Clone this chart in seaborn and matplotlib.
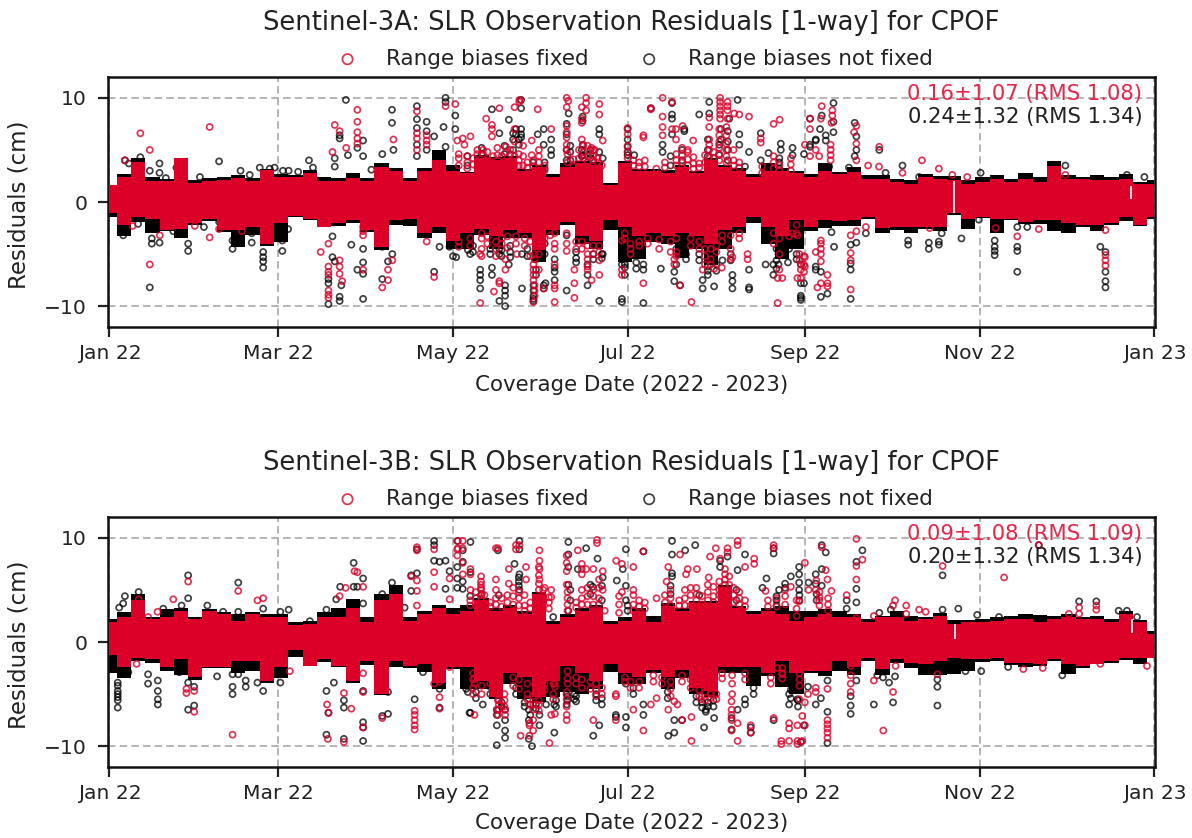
import matplotlib
matplotlib.use("Agg")
import matplotlib.pyplot as plt
import pandas as pd
import seaborn as sns

tick_days = [0, 59, 120, 181, 243, 304, 365]
tick_labels = ["Jan 22", "Mar 22", "May 22", "Jul 22", "Sep 22", "Nov 22", "Jan 23"]

# dense core of the residuals, read every 5 days
core_days = [0, 5, 10, 15, 20, 25, 30, 35, 40, 45, 50, 55, 60, 65, 70, 75, 80, 85, 90, 95,
             100, 105, 110, 115, 120, 125, 130, 135, 140, 145, 150, 155, 160, 165, 170, 175, 180, 185, 190, 195,
             200, 205, 210, 215, 220, 225, 230, 235, 240, 245, 250, 255, 260, 265, 270, 275, 280, 285, 290, 295,
             300, 305, 310, 315, 320, 325, 330, 335, 340, 345, 350, 355, 360, 365]

a_fixed_hi = [1.6, 2.4, 3.8, 2.0, 2.0, 4.2, 1.8, 2.0, 2.1, 2.3, 2.0, 3.1, 2.4, 2.4, 2.8, 2.0, 2.0, 2.3, 2.0, 3.4,
              3.0, 2.0, 3.0, 4.0, 3.0, 2.8, 4.2, 4.0, 4.2, 3.0, 3.4, 2.4, 3.4, 3.7, 3.6, 1.6, 3.7, 3.0, 3.0, 2.8,
              3.4, 2.8, 4.0, 3.4, 3.0, 2.4, 3.0, 3.0, 2.8, 2.4, 3.0, 2.7, 2.9, 2.2, 2.2, 1.9, 1.7, 2.4, 2.2, 2.1,
              1.7, 1.9, 2.2, 1.9, 2.2, 1.9, 3.5, 2.2, 2.2, 2.1, 2.1, 2.2, 1.7, 1.7]
a_fixed_lo = [-1.1, -2.2, -1.4, -1.6, -2.7, -2.6, -2.0, -1.6, -2.7, -2.7, -2.4, -4.0, -2.0, -1.3, -1.6, -2.4, -2.0, -1.7, -2.7, -4.3,
              -1.7, -1.6, -3.0, -2.4, -3.7, -3.0, -2.6, -3.3, -2.7, -3.0, -4.6, -2.7, -1.9, -3.3, -3.7, -1.7, -2.4, -3.3, -3.0, -3.3,
              -3.0, -3.3, -4.0, -2.7, -2.4, -1.4, -2.4, -3.3, -1.7, -2.4, -1.7, -1.8, -1.7, -1.4, -2.5, -2.4, -2.4, -2.4, -2.4, -1.1,
              -1.6, -1.4, -1.6, -1.6, -1.9, -1.7, -1.7, -2.0, -2.2, -2.2, -2.0, -1.4, -2.2, -1.4]
a_free_hi = [1.6, 2.7, 4.2, 2.4, 2.2, 4.2, 2.1, 2.3, 2.4, 2.6, 2.3, 3.2, 2.7, 2.6, 3.1, 2.4, 2.3, 2.8, 2.3, 3.7,
             3.3, 2.3, 3.3, 5.0, 3.6, 2.9, 4.5, 4.3, 4.4, 3.2, 3.6, 2.7, 3.7, 3.9, 3.8, 1.8, 3.9, 3.2, 3.2, 3.1,
             3.6, 3.0, 4.2, 3.6, 3.3, 2.7, 3.7, 3.3, 3.0, 2.7, 3.7, 2.9, 3.4, 2.6, 2.6, 2.2, 2.1, 2.7, 2.5, 2.5,
             2.1, 2.4, 2.6, 2.2, 2.8, 2.4, 3.9, 2.6, 2.4, 2.6, 2.4, 2.7, 1.9, 2.1]
a_free_lo = [-1.4, -3.3, -1.9, -3.0, -2.8, -3.5, -2.2, -1.8, -2.9, -4.3, -3.2, -4.2, -3.8, -1.4, -1.7, -2.4, -2.3, -2.0, -2.9, -4.6,
             -2.2, -2.3, -3.5, -3.0, -4.5, -4.5, -3.2, -4.5, -3.5, -3.5, -5.8, -3.2, -2.2, -4.0, -4.5, -2.7, -5.8, -5.5, -3.8, -4.0,
             -5.4, -4.5, -6.0, -4.5, -3.0, -2.0, -4.0, -5.5, -4.5, -2.8, -2.5, -2.3, -2.3, -1.6, -3.0, -2.7, -3.0, -2.6, -2.8, -1.2,
             -2.6, -1.5, -3.0, -1.7, -2.1, -2.1, -2.8, -3.0, -2.4, -2.8, -2.2, -1.8, -2.3, -1.6]

b_fixed_hi = [1.9, 2.4, 4.0, 2.2, 2.4, 3.0, 2.2, 3.0, 2.7, 2.0, 2.7, 2.4, 2.4, 1.6, 1.7, 2.4, 2.4, 3.3, 1.9, 4.0,
              4.6, 2.0, 2.7, 3.3, 2.7, 3.0, 4.0, 3.0, 3.3, 2.7, 4.6, 1.7, 2.4, 3.0, 3.3, 1.7, 2.0, 3.0, 1.9, 3.5,
              3.0, 3.7, 3.7, 5.3, 3.3, 2.7, 3.0, 2.7, 2.0, 2.4, 2.7, 2.4, 2.4, 1.9, 2.4, 2.4, 2.0, 2.2, 2.5, 1.7,
              1.9, 1.9, 2.0, 2.2, 2.2, 1.9, 2.2, 2.4, 2.2, 2.2, 1.9, 2.7, 1.9, 0.8]
b_fixed_lo = [-1.2, -2.4, -1.5, -1.6, -2.4, -1.6, -3.4, -2.4, -2.4, -1.8, -1.8, -3.7, -2.4, -0.8, -2.3, -1.6, -2.3, -3.7, -1.8, -5.0,
              -1.8, -2.3, -2.1, -3.9, -2.4, -2.4, -3.7, -5.3, -3.0, -3.4, -5.3, -3.7, -2.3, -3.0, -3.7, -2.1, -3.0, -3.4, -2.7, -3.4,
              -2.7, -4.4, -4.7, -2.4, -2.4, -2.4, -3.0, -1.8, -3.0, -2.8, -2.8, -1.8, -2.4, -1.5, -2.6, -1.6, -2.0, -2.1, -1.8, -1.5,
              -1.6, -1.6, -1.5, -2.0, -2.0, -2.1, -1.6, -2.1, -2.3, -2.1, -1.8, -1.5, -1.5, -1.5]
b_free_hi = [2.2, 2.9, 4.6, 2.4, 3.2, 3.3, 2.4, 3.2, 2.9, 2.7, 2.9, 2.7, 2.7, 1.9, 2.0, 2.9, 3.3, 4.1, 2.4, 4.6,
             5.5, 2.4, 3.0, 3.6, 3.3, 3.6, 4.2, 3.3, 3.6, 3.0, 4.8, 2.0, 2.7, 3.3, 3.6, 2.0, 2.4, 3.3, 2.5, 3.7,
             3.3, 3.9, 3.9, 5.5, 3.5, 3.0, 3.3, 3.5, 3.0, 3.0, 3.2, 3.0, 2.7, 2.2, 2.5, 3.0, 2.5, 2.4, 2.8, 2.1,
             2.1, 2.2, 2.4, 2.5, 2.7, 2.6, 2.5, 2.7, 2.4, 2.5, 2.2, 3.0, 2.1, 1.1]
b_free_lo = [-3.0, -3.5, -1.8, -2.0, -2.8, -3.2, -3.6, -2.5, -2.5, -3.0, -2.8, -3.9, -3.5, -1.4, -2.3, -1.9, -2.4, -3.9, -2.2, -5.1,
             -2.4, -2.5, -2.9, -4.5, -2.6, -4.5, -4.5, -5.5, -4.0, -5.5, -5.8, -5.3, -4.8, -5.0, -4.5, -2.9, -4.0, -4.0, -3.0, -4.5,
             -3.5, -5.0, -5.3, -3.0, -3.0, -4.2, -3.3, -4.3, -5.0, -3.0, -3.3, -2.8, -3.2, -1.8, -3.2, -2.0, -2.5, -3.2, -3.2, -3.1,
             -2.8, -1.9, -1.8, -2.2, -2.4, -2.3, -1.8, -3.1, -2.5, -2.1, -2.0, -1.7, -2.1, -1.5]

# short data gaps in the core: (day, low, high)
a_gaps = [(295, -1.1, 2.0), (356.8, 0.3, 1.5)]
b_gaps = [(295.2, 0.3, 1.7), (357.2, 0.9, 2.2)]

# passes standing out of the core: (day, residuals...)
a_free_out = [
    (4.8, -3.2), (5.4, 4.0), (6.8, 3.7), (10, -2.1), (10.8, 4.3), (14.1, 3.0, -8.2), (14.8, -3.5, -4.0), (17.5, 3.7, 2.8, -3.9),
    (19.7, 2.3), (22.3, -2.8), (23.4, 3.3), (27.5, -4.0, -4.7), (31.6, 2.4), (33, -2.4), (38.3, 3.9, -1.9), (43, -3.7, -4.5),
    (45.8, 3.0), (49, 2.6), (49.7, -3.0, -3.9), (52.5, 3.3), (53.7, -4.8, -5.3, -5.7, -6.3), (56, 3.2), (57.7, 3.3),
    (60.4, -3.7, -4.7), (60.6, 3.0), (62.4, -2.6), (62.6, 3.0), (65.9, 2.9), (69.7, 4.0), (71.1, 3.3),
    (76.5, -7.4, -7.8, -9.8), (77.9, -3.3, -5.3), (78.7, 4.2, 3.4, -5.7), (80.4, 6.4, 6.1, -9.1, -9.5), (81, -8.0),
    (82.6, 9.8), (83.3, 4.5), (84.5, -4.1), (86.6, 5.2, -6.5), (88.6, 5.9, 4.4, -4.5, -5.8, -6.9, -9.3), (91.5, 3.1),
    (95.3, 4.6, -3.0, -4.3, -7.4), (97.3, -5.7), (98.7, 8.85, 7.6), (98.8, -5.0), (99.2, 5.0),
    (107.4, 9.2, 7.95, 7.1, 5.5, 4.4), (110.8, 7.7, 6.8, 5.0, -3.0), (113.4, 6.3, -6.7), (115.3, 4.4, -4.3), (116.7, 7.2),
    (117.4, 10, 9.6, 5.3), (118.8, -4.3), (120, -5.2), (120.8, 8.3, 7.0), (121.1, -5.3), (123.4, -3.3), (125.2, -4.6),
    (126, -5.0), (129.5, -6.5, -7.0, -7.5, -8.3), (133.6, 8.9, -6.3, -7.0), (136.2, 6.6, -4.5, -5.0, -9.5),
    (138.2, -8.0, -8.5, -9.0, -10), (139.5, 7.9, -6.0), (142, 7.0, 6.5), (143.8, 9.8, 9.0, 7.0, 6.5, 6.2), (144.1, -5.0, -8.3),
    (148.1, -8.0, -8.5, -9.0, -9.3, -9.5), (149.6, 6.5), (151.7, 7.0, 5.5, -8.0, -8.3), (152.3, -7.8),
    (154.3, 6.0, 5.0, 4.5), (155.5, -5.5, -6.3, -6.7, -7.5), (159.7, 7.5, 6.5, 5.0, 4.0, -3.2, -8.5), (160.4, 8.5),
    (163, -5.8), (165.3, 8.2, 7.8, 5.5, 4.5), (167, -6.0, -7.0, -8.0), (171.1, 7.0, 6.5, 4.8, -9.5), (172.3, 4.2, -5.0),
    (179, -5.5, -6.0, -9.3, -9.6), (181, 7.0, 6.0, 4.8), (183.3, 4.5), (186.5, -6.0, -6.5, -9.7), (189.1, 9.0),
    (192.6, -6.4), (193.2, 5.5, 4.8), (196.5, 9.5, 8.4, 8.0, 6.5), (197.3, -6.7, -7.6), (199.3, -8.0), (200.8, 7.0, 6.8),
    (201.4, -5.0, -5.5), (206, 8.4), (207.2, -7.5, -8.3), (209.5, 9.6, 8.5), (211.2, -8.1), (213.6, 7.0, 6.0), (214.1, -5.6),
    (216.5, 8.0), (217.6, -7.0, -7.6, -8.3), (219.4, 9.8), (220, 6.5, 5.5), (223.4, 4.8, -6.5, -8.2, -8.4), (227.5, 6.6, 4.0),
    (229.2, -6.0), (230.2, 4.7), (231.9, -6.0, -7.0), (233.7, -5.0, -6.0), (234.5, 5.6, 5.0), (237.4, -3.5, -4.5),
    (238.6, 5.2, 4.5), (241.5, -6.0, -7.8, -9.0, -9.2, -9.4), (242.6, 4.6, -7.8), (244.7, 8.0, 5.5, 5.3), (246.7, 6.0, 5.9, -6.2, -6.5),
    (248.2, 7.0), (248.5, -6.7, -9.1), (248.8, 8.3), (250.2, 6.4, 5.9), (250.8, -8.8), (251.4, 3.4), (252.2, -2.9), (252.9, 9.5, 7.7, 6.7),
    (253.1, -4.3), (258.3, 3.3), (258.9, -4.1, -5.9, -6.5, -9.3), (260.3, 7.6, 4.4), (260.9, 6.3, 5.0, -3.9), (264.2, -3.0),
    (268.9, 5.0), (271.1, 2.8), (277, 3.5), (279, -3.7, -4.1), (282.8, 2.4), (286.2, -3.9, -4.5), (289.7, -3.8, -4.1), (290.7, -3.0),
    (297.6, -3.5), (303.7, -1.7), (304.3, 2.8), (309.2, -3.7, -4.3, -4.7, -5.1), (317.1, -2.4, -4.3, -4.7, -6.7), (320.6, -2.4),
    (333.9, 3.5), (346.1, -4.3), (347.9, -4.8, -6.7, -7.6, -8.2), (355.4, 2.6), (361.5, 2.4),
]
a_free_dense = [
    (125, 3.5, 4.4), (127, -4.2, -4.8), (130, 4.6, 5.2), (133, -4.5, -5.0), (137, -4.6, -5.2), (138, 4.6, 5.4), (140, -4.2, -4.8, -5.3),
    (141, 5.0, 6.0, 6.6), (143, 5.5, 6.0), (146, -4.5, -5.2), (148, 3.8), (149, -5.5, -6.5, -7.0), (152, 3.2, 3.8, -4.0, -5.0), (161, 4.0, 4.8, 5.4),
    (163, -4.8, -5.4), (165, 4.4, 5.0), (168, 4.2, 4.6, 5.0), (169, -5.0, -5.5), (172, -5.0, -5.4), (180, -6.0, -6.3, -7.0), (181, 4.5, 5.3),
    (184, -5.8, -6.4), (196, 3.5, 4.4), (198, -4.5, -6.0), (200, 4.0, 5.0), (206, -5.0, -5.6), (209, 4.4, 5.0, 6.0, -6.2, -6.6, -7.0),
    (212, -6.0, -6.6), (213, 4.5, 5.5), (216, 4.0, 5.0, 5.8, 6.8), (217, -5.0, -5.6), (222, 3.4), (233, -4.5, -5.6, -6.4), (234, 3.2, 3.8, 4.2),
    (237, -5.8), (240, -5.0, -5.5),
]
a_fixed_out = [
    (5.4, 4.0), (8.1, -2.3), (10.8, 6.6), (14.1, 5.0, -6.0), (17.6, -3.2), (29.8, -2.3), (35, 7.2, -3.4), (38.3, -2.6), (46.3, -2.8),
    (73.8, -4.8), (76.5, -4.0, -6.2, -6.7, -7.0, -8.5, -8.9, -9.2), (77.9, 4.8), (78.7, 7.4), (80.4, 6.8, -5.6, -6.2, -6.9),
    (81.3, -7.6), (82.7, 5.2), (86.6, 8.85, 7.7, 6.7, 6.1, 5.6), (88.6, -2.4, -2.8, -3.2, -6.5), (95.3, -8.2), (97.3, -6.5, -7.5),
    (98.8, -5.6), (99.2, 6.0), (107.4, 8.7, 6.6, 6.1, 5.0), (110.8, 6.4, 5.9, 5.5, -3.8), (113.4, -7.2), (117.4, 9.2),
    (120.8, 9.4), (121.5, 5.9), (123.4, 6.1), (124, 5.5), (126.1, 6.3), (129.5, -5.0, -9.7), (131.6, 8.0), (133.6, 7.4, 7.0, 6.3),
    (134.3, -8.6), (136.2, 9.0, -7.6, -7.8), (138.3, -5.5, -6.5), (141.5, 9.1, 7.0), (142.3, -5.0), (143.2, 9.8, 9.6), (147.5, 5.9, 4.5),
    (148.1, -6.0, -6.5, -7.0, -7.5, -9.6), (149.6, 8.9), (151.7, -8.3), (154.3, 7.0), (155.5, -3.0, -4.0, -4.5, -6.0, -8.0, -8.3, -9.6),
    (159.7, 10, 9.1, 7.3, 6.7, 6.2, 5.5, 5.0, -3.0, -4.0, -4.7), (160.3, 9.7), (162.4, -6.5, -7.8, -9.2), (165, 9.1, 8.0, 7.6, 6.0),
    (166.5, 10, 9.5, 8.8), (167, -5.0, -5.5, -6.2, -6.5), (168.4, -7.5, 5.2), (169.5, 5.0), (171.1, 9.4, 8.4, -5.6, -7.0), (172.3, 5.9),
    (179, -3.7, -6.5, -7.0), (181, 7.1, 6.5), (186.5, 6.4, 6.2, -7.8), (189.1, 9.0, 8.9), (193.2, 10, 8.2, 7.2, 6.4), (196.5, 9.6, 7.0),
    (197.3, -5.5, -6.0), (197.9, 7.0, 6.0), (199.3, -8.0), (200.2, 7.3), (202, 5.0), (203.3, -9.6), (203.9, 5.9), (207.2, -6.5),
    (209.5, 8.1, 7.2, 6.0), (211.2, -6.4), (213.3, 10, 9.6, 9.2, 8.8, 8.4, 8.0), (213.9, -6.3), (215.9, 9.6, 9.2, 8.8, 8.0),
    (217.6, -5.3), (218.2, 8.5), (220, 8.4), (222.9, -5.0, -5.5), (223.4, 8.2), (227.5, 6.1, 5.7), (232, 7.5), (233.4, -7.3, -9.7),
    (234.1, 7.9), (235, -7.3), (237.4, -3.3), (238.6, -3.0), (240.3, -3.2, -7.3), (241.5, -6.0, -6.5, -7.3), (242.6, -5.2, -6.0, -6.7),
    (242.9, 5.5, -5.3, -6.2), (244.7, 8.0, 7.0, 4.4), (246.7, 5.0, -4.8), (247.3, -8.2), (247.9, 4.4), (248.5, 8.0, -3.7, -4.0, -4.5, -5.0, -5.7, -7.8),
    (248.8, 9.2), (250.8, -7.0, -7.8, -8.1), (251.9, 5.5, 5.0, 4.5, 4.0), (252.2, 7.6), (252.5, 8.8, 8.3), (258.9, -3.2, -4.9, -5.6, -8.4),
    (260.1, 6.7), (260.9, 7.3, 5.6, 4.0, -2.8), (264.2, -2.4), (265, 3.5), (268.8, 3.4), (268.9, 5.3), (277, 2.8), (281, -2.0),
    (283.8, 4.0), (286.5, -2.5), (289.7, 3.2), (294.4, 2.6), (299.6, 2.4), (309.5, -2.5), (317.1, -3.3), (324.6, -2.6), (333.9, 2.6),
    (347.9, -2.7, -5.1, -5.6, -6.1),
]
a_fixed_dense = [
    (122, 3.5, 4.2, 4.6, -3.8, -4.3), (125, 3.2, 3.8, 4.4), (126, -3.5, -4.2), (127, 3.6, 4.2), (128.5, 3.3, 4.6, 5.0), (130, -3.0, -3.5, -4.5, -5.2),
    (130.5, 4.6, 5.0), (132, 3.5, 4.0, 4.8, -3.3, -4.0), (134, 3.6, 4.4), (135, -3.8, -4.5, -5.2), (135.5, 4.5, 5.2), (137, 3.7, 4.4, -3.5, -4.0),
    (138.5, 4.8, 5.3), (139, -3.3, -4.4), (140, 4.6, 5.0), (141.5, 3.6, 4.4, 5.8), (142, -3.3, -4.0), (143, 3.5, 4.0, 4.6), (144.5, 3.5, 4.4, 5.4),
    (145, -3.5, -4.2), (146, 3.3, 3.8), (147, -3.8, -5.2), (148, 3.4, 4.0), (148.5, -5.0, -5.5, -8.0, -8.5, -9.0), (150, 3.8, 4.4, 5.0, -5.0, -6.5),
    (152, 3.0, 3.5, -3.5, -4.0), (154, -3.2), (160, 3.8, 4.6), (162, 3.4, 4.1), (163, -3.8, -4.5), (164, 4.2, 5.0), (165, -3.8, -4.5), (165.5, 4.2, 4.8, 5.4),
    (167, 3.8, 4.4, 5.4, -4.2), (169, 4.0, 4.4, 5.0, -4.2, -5.0), (170.5, 3.8, 4.2), (171, -4.2, -4.8), (172, 3.5), (180, -3.0, -3.5), (181, 4.2, 4.8, 5.4),
    (182, -4.0, -4.5, -5.0), (183, 3.5, 4.0), (185, 3.4, 3.8, -3.8, -4.2), (187, 3.4, 4.0), (188, -3.5, -4.0), (191, 3.2), (192, -3.6, -4.5), (194, 3.3, 3.8),
    (196, -3.8, -4.8), (198, 3.5, 4.0, 4.6, -3.5, -4.8, -5.2), (200, 3.8, 4.5, 5.2), (202, 3.5, 4.1, 4.8), (203, -3.5, -4.2), (204, 3.2, 3.7, 4.3),
    (206, 3.3, 3.7, -3.8, -4.5), (208, 3.8, 4.5, -4.5, -5.2, -6.0), (209.5, 4.3, 5.0, 5.5), (210, -4.5, -5.5, -6.0), (211, 4.2, 4.8), (212, -4.2, -4.8),
    (213, 4.0, 4.6, 5.2, 5.8, 6.4, 7.0), (214, -3.2, -3.8), (215.5, 3.8, 4.4, 5.0, 5.6, 6.4, 7.2), (217, -3.2, -4.5, -5.5), (218, 3.5, 4.0, 5.0),
    (220, 3.3, 3.8, -3.0, -3.5), (228, 2.8, 3.4), (232, 3.2, 3.8, 4.4, -3.0, -4.0), (234, 3.0, 3.5, -3.5, -5.0, -6.5), (238, 3.0, 3.6, 4.2), (240, -2.2, -3.0), (241, -5.0, -5.6),
]
b_free_out = [
    (2.9, -3.9, -4.2, -4.7, -5.0, -5.3, -5.6, -6.3), (3.4, 3.3), (4.8, 3.7), (5.4, 4.4), (6.6, -2.9), (10.2, 4.8), (13.5, -3.1, -4.0), (16.9, -3.7, -4.7, -5.5, -6.0),
    (18.8, 3.2), (24.4, -2.9), (25.2, 3.5), (27.5, 6.4, 4.2, -3.9, -6.5), (29.6, -4.3, -6.1), (34.2, 3.5), (37.6, -3.3), (39.7, 2.9),
    (43, -3.1, -4.3, -5.0), (45, 5.7, 2.9, -3.1), (47.6, -3.7, -4.3), (51.7, -3.9), (53.7, 3.2, -4.7), (59.7, 2.9, -3.1, -3.9), (62.6, 3.1),
    (70, 2.0), (75.8, 3.1, -4.7, -8.9), (76.5, -6.8), (78.4, -3.9), (79.2, 4.1), (80.6, 5.3), (81.9, -5.6, -6.3, -9.3), (85.3, 7.6, 5.3),
    (86.6, 5.3), (88.6, 6.1, 3.7, -4.7, -7.7, -8.2, -9.5), (95.3, 4.6, -7.1), (97.3, -4.8, -6.9), (98.7, 5.7), (103.1, 3.3), (105.4, 6.4, 4.9),
    (106.6, -5.5), (107.4, 8.9, 6.6), (109.5, -2.9), (113.4, 9.7, 9.3, 7.8), (115.3, 7.7, -4.5, -6.3), (117.4, 7.8, 5.1), (118.8, 6.8),
    (121.5, 9.7, 7.2, 6.1, 5.2), (123.4, 8.8, 7.7, 5.8, 5.1), (124.6, -4.5), (125.2, -4.8), (125.8, -6.8), (126.1, 9.6, 6.7, -6.8), (130.4, -6.0),
    (135.3, -6.5, -7.0, -8.0, -9.9), (135.7, 8.8), (138.2, -6.5, -7.5, -8.5, -9.2), (141.5, 7.5), (143.2, 9.7, 8.9, 6.5, 5.0), (143.8, -5.0),
    (146.5, -6.5, -7.5, -9.3), (147.6, -10), (150.2, -7.0, -8.0), (152.5, -6.0), (155.4, -6.0, -8.7), (159.7, -4.0, -5.0, -6.0),
    (160.3, 9.6, 8.4, 7.2, 5.5, 3.0), (162.4, -5.0, -5.5), (163.6, 7.0), (166.5, 9.0), (168.8, 5.3), (169, -9.0), (170.5, 8.0), (171.1, -8.0),
    (172.3, 6.2), (176.9, -7.0, -7.2), (177.2, 5.9), (179.3, 7.0), (180.4, 8.9, 5.4, 4.0, -4.0, -7.2, -8.2), (186.5, 8.7, -6.0, -7.0),
    (195.2, -9.0), (196.5, 9.7, 8.4, 6.6, 6.3), (197.3, -7.5, -8.7), (200, -7.5), (201.1, 8.8), (204.6, 9.3), (207.7, -8.2), (208.3, -6.5, -6.7),
    (211.2, -7.3), (213.3, 7.8, 7.2), (215.9, 8.2), (217.3, -7.3, -8.4), (219.4, 6.9, -6.5), (222, 8.4, -5.5, -6.0), (224, -8.2, -8.7),
    (228.1, 5.2), (229.5, 6.1), (232, 9.0, 8.5, -7.5), (233.9, 5.0), (237.4, -5.0, -6.0), (238, 6.3), (240.3, -5.5), (240.9, 7.2, 6.5, 5.7, 5.0),
    (241.5, -9.6), (242.6, -8.0), (244, -4.3), (244.2, 5.7), (246.7, 6.5, 5.6, -6.0), (248.5, -5.4), (248.8, 9.3, 7.0, 5.4), (250.2, 8.6),
    (250.8, -3.7, -6.7, -9.7), (257.5, 4.0, 3.2), (258.9, -5.2, -6.1, -6.9), (260.9, 7.7, 5.1, 3.8, -3.7), (263, 8.8), (267, -6.0), (268.2, -3.2),
    (268.9, 2.8), (270.2, -3.4), (272.3, -3.9), (272.9, 3.1), (273.7, -5.8), (274.4, -3.3), (289.2, -3.6, -4.3, -6.1), (291, 6.4, 3.1), (296.5, 3.2),
    (299, -2.8), (303.1, 2.6), (304.5, -2.8), (310.7, 2.4), (313.9, -2.4), (324.6, 9.3), (332.8, -3.2), (338.7, 3.9), (344.7, 3.9), (352.5, 3.0),
    (355.4, 3.0), (358.9, 2.4),
]
b_free_dense = [
    (126, 4.4), (128, -4.8, -5.4), (130, 4.6), (133, -4.3, -5.0), (136, 4.5), (137, -5.8, -6.2), (142, -4.4, -5.0), (143, 5.4, 5.8, 6.2), (145, -5.8, -6.2),
    (147, -6.0, -7.0), (149, -6.0, -6.4), (155, 2.4), (156, -5.6, -6.2), (160, -5.2, -5.6), (161, 4.0, 5.0), (163, -5.2, -5.7), (168, 4.6, 5.5), (170, -5.0, -5.6),
    (172, 4.0, 5.4, -5.4, -6.0), (181, 3.0, 3.5), (183, -4.4, -5.0), (195, -4.8, -5.4), (196, 4.6, 5.4), (205, -5.2, -5.8), (206, 4.5), (207, -5.8, -6.3),
    (209, -5.8, -6.2), (211, -5.6, -6.2), (219, 4.0, 5.0), (225, -4.4, -5.0), (233, 3.5, 4.0, 4.4), (236, 5.2, 5.6), (238, -4.6, -5.4), (240.5, -5.6, -6.2),
    (241, 4.0, 4.5), (247, 4.0, 4.6),
]
b_fixed_out = [
    (9.5, -2.1), (10.2, 4.1), (13.5, 2.4), (16.8, 2.9), (22.3, 4.1), (26.9, -4.5, -4.9), (27.5, 5.8), (29.6, -4.7, -6.7), (43, -8.9), (45, 4.9),
    (51.7, 4.0), (53.7, 4.2), (63, -2.8), (76, -6.0), (76.3, -9.3), (76.5, -6.8), (80.4, 4.4), (81.9, -4.9, -9.6), (82.5, 5.2), (84.5, -6.4),
    (85.6, 6.8), (86.6, 6.7), (88.6, 5.3, -3.0, -4.8, -8.2), (95.3, -7.3), (105.4, 6.3), (106.6, -6.6, -7.0, -7.5, -8.0, -8.4),
    (107.4, 9.1, 8.8, 5.9, 4.9, 3.5), (113.4, 8.9, 6.7, 5.3, -4.0), (115.3, -3.8, -5.3, -6.4), (118.8, 6.1, 4.1, -2.4), (121.5, 8.9, 8.3),
    (121.7, 9.7, 9.0), (123.4, 9.7, 9.0, 7.6, 6.5), (126.1, 7.0, 6.5, 5.0), (127.5, -3.5, -4.0, -7.0), (129.8, 6.3, 5.5, 5.0, 4.5), (135, 9.0, 6.0),
    (135.7, 9.0, -5.6, -6.5, -7.0), (138.2, -6.5, -7.0), (139.5, 7.0, 5.6), (142, 9.3, 8.9), (143.2, 9.3), (143.6, -9.0), (145.5, 7.2, 6.0),
    (146.7, -6.0, -7.8, -8.0, -9.0), (150.2, 8.8, 7.8, 7.0, 6.0), (152, 5.2), (153.7, -9.7), (154.3, 5.0, 4.3, -7.0), (155.6, -4.0, -4.3, -6.9),
    (159.7, 8.3, 7.6, 6.8, 5.5, -4.8, -5.5, -6.2, -7.0, -7.5), (163.6, 8.8), (165, 7.5, 7.0, 6.5), (166.5, 7.0), (169, 7.0, -7.5), (170.3, 9.8, 9.5),
    (172.3, 6.8, 5.0), (176.9, -5.0, -5.2, -7.5), (177, 7.8), (179, 7.5, 4.8), (183, 7.2, 4.5, -6.5), (186.5, 8.7, -8.5), (189.1, -6.0), (191.1, 4.2, -5.4),
    (194.6, 5.8), (195.2, 7.2, -6.5), (197.3, -5.7), (198.4, -6.0), (199.3, 8.4), (200, -7.5), (201.4, 6.5), (202, 7.0), (203.3, -7.2, -9.5), (205.2, 7.0),
    (206.6, -5.5), (209.3, 6.2), (209.8, 8.2), (211.8, 9.0), (213.3, 8.0), (215.9, 9.0, 8.6), (217.3, -5.7, -6.5, -7.0, -7.5, -8.5), (219.4, 9.7, 9.3, -7.8, -9.5),
    (222, 7.2), (224, -8.0, -8.7), (225.2, 8.0, 7.5), (229.2, 4.9), (232, 9.3, 9.0, -7.3), (233.3, -2.5), (235, -3.1), (234.7, -9.5, -9.8), (237.4, -7.8, -8.3, -9.5),
    (238, 5.3), (240.3, -8.0, -9.5, -9.8), (240.9, 3.9), (242, -7.1, -9.5), (242.9, 7.6, -5.8, -8.0), (244, -5.0), (244.2, 5.0), (246.7, 5.0, -4.4, -4.8),
    (246.9, 5.9), (247.9, 4.0), (248.8, 9.1), (250.2, 6.9), (250.8, 6.0, -4.5, -7.5, -7.9, -8.3, -8.7, -9.2), (252.2, 4.9), (257.5, 4.5), (258.9, -2.3, -3.2, -4.0, -4.8),
    (260.9, 9.9, 7.3, 6.0, 2.3), (263, 7.9), (267, 2.5, -3.7), (270.3, -8.5), (273.7, 3.5, -4.8), (274.4, 4.0), (274.6, -2.3), (278.3, 3.5, 2.7), (282.8, 3.1), (285.1, 2.9),
    (289.2, -3.1), (291, 7.3), (312.5, 6.2), (319.2, -2.6), (324.6, 9.3), (326, -2.5), (335.1, 2.7), (338.7, 3.3, 2.7), (344.7, 3.5, 3.1), (346.1, -2.1), (362.4, -2.3),
]
b_fixed_dense = [
    (126, 3.5, 4.0), (127, -3.0, -3.6, -4.4, -5.0), (128, 3.5, 4.2, 4.8), (129.8, 3.6, 4.2, 5.2, 5.8), (130, -4.2, -5.0), (131, 3.4, 4.5), (133, 3.4, 3.8, -3.4, -4.0),
    (135, 3.6, 4.2, 5.0), (136, -5.6, -6.0, -6.5), (137, 3.4, 4.2), (138, -5.0, -5.6, -6.2), (139, 3.8, 4.5), (141, 3.6, 4.4, 5.2, -3.4, -4.2), (143, 3.5, 4.2, 4.8, -3.6, -4.5),
    (145, 3.0, 3.5, 4.5), (146, -4.0, -5.0, -5.5), (147, 3.2, 3.8), (148, -5.2, -6.0, -6.5, -7.5, -8.5), (150, 5.0, 5.6, 6.4, 7.2, -5.6, -6.0, -6.6), (151.5, 3.8, 4.4, 5.0),
    (152, -4.0, -4.6), (153.5, 3.2, 3.8, 4.3), (155, -4.0, -5.0, -5.5), (160, 3.0, 3.6, 4.2, 4.8, -2.8, -3.5, -4.0), (163, 3.3, 3.8, -3.4, -4.0), (165, 3.6, 4.2, 5.0, -3.6, -4.4),
    (167, 3.6, 4.4, 5.2), (168, -3.8, -4.5), (169, 3.6, 4.4, 5.0), (170, -4.0, -4.6, -5.2), (171, 3.6, 4.2, 5.2, 6.0), (172, -4.4, -5.0), (173, 3.0), (178, 2.8, 3.6, 4.4),
    (180, -3.4, -3.8), (182, -3.8, -4.4), (183, 3.0, 3.6, 5.0), (185, 3.4, 4.0, -3.8, -4.4), (187, 3.2, 3.8), (190, -3.2, -3.8), (193, -3.4, -4.0), (194, 3.8, 4.5),
    (196, 3.5, 4.2, 5.0, -3.8, -4.5, -5.2), (199, 3.5, 4.0), (200, -3.2, -3.8), (201, 3.5, 4.2, 5.0), (203, 3.5, 4.5, 5.2, -3.6, -4.4), (205, 4.0, 4.6, 5.2), (206, -4.6, -5.2),
    (207, 3.6, 4.4), (208, -4.8, -5.6), (209, 4.0, 4.8, 5.5), (210, -5.0, -5.4), (211, 3.8, 4.4, 5.3), (212, -5.0, -5.5), (213, 4.5, 5.0, 5.8), (214, -3.0, -3.5),
    (215, 5.5, 6.0, 6.5, 7.0), (216.5, 5.5, 6.3), (217.5, -3.2, -4.0, -5.0), (218, 3.8, 4.5, 5.2), (220, 3.6, 4.2, 4.8), (222, 3.4, 4.0, -3.0, -3.6), (230, 3.4, 4.0),
    (231, -3.4, -4.0), (233, 3.4, 4.2), (235, -2.5, -3.0, -3.5), (236, 3.6, 4.4, 5.0), (240, 2.5, 3.2, 4.0), (241, -3.0, -3.6, -4.2, -5.5), (248, 3.5, 4.3, 4.8), (251, 3.0, 3.6, 4.2),
]

panels = [
    ("Sentinel-3A", a_fixed_hi, a_fixed_lo, a_free_hi, a_free_lo, a_fixed_out + a_fixed_dense, a_free_out + a_free_dense, a_gaps,
     "0.16±1.07 (RMS 1.08)", "0.24±1.32 (RMS 1.34)"),
    ("Sentinel-3B", b_fixed_hi, b_fixed_lo, b_free_hi, b_free_lo, b_fixed_out + b_fixed_dense, b_free_out + b_free_dense, b_gaps,
     "0.09±1.08 (RMS 1.09)", "0.20±1.32 (RMS 1.34)"),
]

RED = "#dc0028"


def long_form(rows):
    # one row per residual
    out = [(r[0], v) for r in rows for v in r[1:]]
    return pd.DataFrame(out, columns=["day", "res"])


sns.set_style("ticks")
plt.rcParams["font.family"] = "DejaVu Sans"

fig = plt.figure(figsize=(11.92, 8.38), dpi=100)
positions = [[108 / 1192, 511 / 838, 1047 / 1192, 250 / 838],
             [108 / 1192, 71 / 838, 1047 / 1192, 250 / 838]]
xlabel_y = [-0.232, -0.224]

for pos, lab_y, panel in zip(positions, xlabel_y, panels):
    name, fix_hi, fix_lo, free_hi, free_lo, fix_out, free_out, gaps, fix_txt, free_txt = panel
    ax = fig.add_axes(pos)

    ax.fill_between(core_days, free_lo, free_hi, step="mid", color="black", lw=0, zorder=2)
    sns.scatterplot(data=long_form(free_out), x="day", y="res", ax=ax, s=19, marker="o",
                    facecolor="none", edgecolor="black", linewidth=1.25, alpha=0.75,
                    label="Range biases not fixed", zorder=3)
    ax.fill_between(core_days, fix_lo, fix_hi, step="mid", color=RED, lw=0, zorder=4)
    sns.scatterplot(data=long_form(fix_out), x="day", y="res", ax=ax, s=19, marker="o",
                    facecolor="none", edgecolor=RED, linewidth=1.25, alpha=0.8,
                    label="Range biases fixed", zorder=5)
    for day, lo, hi in gaps:
        ax.vlines(day, lo, hi, color="white", lw=1.2, zorder=6)

    ax.set_xlim(-0.5, 365.2)
    ax.set_ylim(-12, 12)
    ax.set_xticks(tick_days)
    ax.set_xticklabels(tick_labels)
    ax.set_yticks([-10, 0, 10])
    ax.set_yticklabels(["−10", "0", "10"])
    ax.grid(True, color="#a8a8a8", ls=(0, (4.5, 2.5)), lw=1.2, zorder=1)
    ax.set_axisbelow(True)
    ax.tick_params(labelsize=14.6, length=7, width=1.6, color="#222222", labelcolor="#222222")
    ax.tick_params(axis="y", pad=8)
    ax.tick_params(axis="x", pad=5)
    for s in ax.spines.values():
        s.set_linewidth(1.8)
        s.set_color("#111111")

    ax.set_xlabel("Coverage Date (2022 - 2023)", fontsize=15.4, color="#222222", va="center")
    ax.xaxis.set_label_coords(0.5, lab_y)
    ax.set_ylabel("Residuals (cm)", fontsize=16.5, color="#222222", va="center")
    ax.yaxis.set_label_coords(-0.085, 0.488)
    ax.set_title(name + ": SLR Observation Residuals [1-way] for CPOF", fontsize=18.5,
                 color="#222222", pad=34)

    handles, labels = ax.get_legend_handles_labels()
    ax.legend(handles[::-1], labels[::-1], loc="lower center", bbox_to_anchor=(0.498, 0.955), ncol=2,
              frameon=False, fontsize=15.5, markerscale=1.7, columnspacing=1.8, handletextpad=0.8,
              labelcolor="#222222")

    ax.text(0.988, 0.932, fix_txt, transform=ax.transAxes, ha="right", va="center", fontsize=15.2,
            color="#e8264a", zorder=7)
    ax.text(0.988, 0.84, free_txt, transform=ax.transAxes, ha="right", va="center", fontsize=15.2,
            color="#222222", zorder=7)

fig.savefig("out.png", dpi=100)
